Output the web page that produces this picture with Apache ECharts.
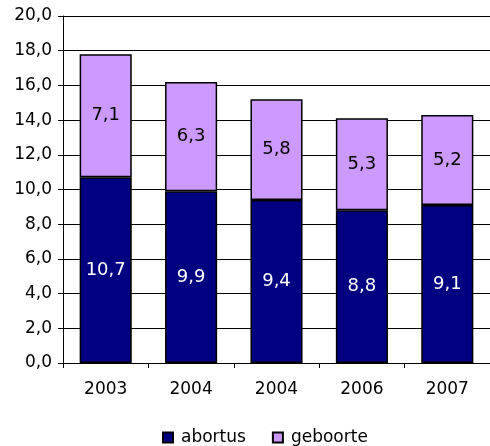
<!DOCTYPE html>
<html>
<head>
<meta charset="utf-8">
<script src="https://cdn.jsdelivr.net/npm/echarts@6/dist/echarts.min.js"></script>
<style>
  html, body { margin: 0; padding: 0; background: #fff; }
  #chart { width: 490px; height: 446px; }
</style>
</head>
<body>
<div id="chart"></div>
<script>
// data
const years = ['2003', '2004', '2004', '2006', '2007'];
const abortus = [10.7, 9.9, 9.4, 8.8, 9.1];
const geboorte = [7.1, 6.3, 5.8, 5.3, 5.2];

const fmt = v => v.toFixed(1).replace('.', ',');
const font = 'DejaVu Sans, Verdana, sans-serif';

const chart = echarts.init(document.getElementById('chart'));

chart.setOption({
  animation: false,
  textStyle: { fontFamily: font },
  grid: { left: 63, right: 0, top: 16, bottom: 83, containLabel: false },
  legend: {
    top: 424,
    left: 157,
    itemWidth: 10,
    itemHeight: 10,
    itemGap: 26,
    icon: 'rect',
    textStyle: { fontSize: 17, color: '#000', fontFamily: font, padding: [0, 0, 0, 3] },
    data: ['abortus', 'geboorte']
  },
  xAxis: {
    type: 'category',
    data: years,
    axisLine: { lineStyle: { color: '#000', width: 1 } },
    axisTick: { show: true, length: 5, lineStyle: { color: '#000' } },
    axisLabel: { color: '#000', fontSize: 17, margin: 18, fontFamily: font }
  },
  yAxis: {
    type: 'value',
    min: 0,
    max: 20,
    interval: 2,
    axisLine: { show: true, lineStyle: { color: '#000', width: 1 } },
    axisTick: { show: true, length: 5, lineStyle: { color: '#000' } },
    axisLabel: { color: '#000', fontSize: 17, margin: 11, fontFamily: font, formatter: fmt },
    splitLine: { lineStyle: { color: '#000', width: 1 } }
  },
  series: [
    {
      name: 'abortus',
      type: 'bar',
      stack: 'total',
      barCategoryGap: '39%',
      data: abortus,
      itemStyle: { color: '#000080', borderColor: '#000', borderWidth: 1.5 },
      label: { show: true, position: 'inside', color: '#fff', fontSize: 18, fontFamily: font, formatter: p => fmt(p.value) }
    },
    {
      name: 'geboorte',
      type: 'bar',
      stack: 'total',
      data: geboorte,
      itemStyle: { color: '#CC99FF', borderColor: '#000', borderWidth: 1.5 },
      label: { show: true, position: 'inside', color: '#000', fontSize: 18, fontFamily: font, formatter: p => fmt(p.value) }
    }
  ]
});
</script>
</body>
</html>
